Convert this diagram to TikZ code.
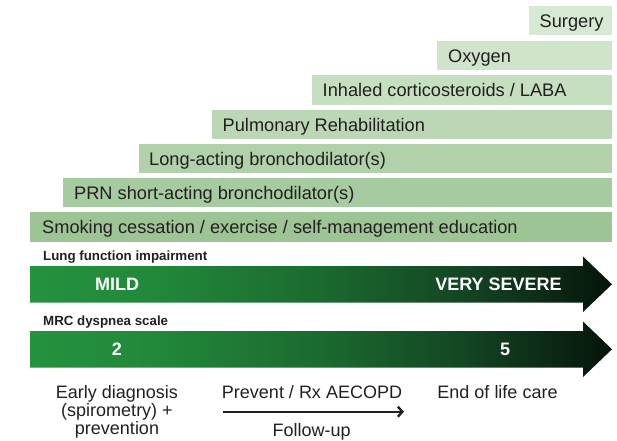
\documentclass[tikz,border=0pt]{standalone}
\usepackage{fontspec}
\setmainfont{Liberation Sans}
\usetikzlibrary{arrows.meta}
\definecolor{txt}{HTML}{231F20}
\definecolor{b1}{HTML}{D6E9D3}
\definecolor{b2}{HTML}{CFE4CB}
\definecolor{b3}{HTML}{C6DFC1}
\definecolor{b4}{HTML}{BBD7B5}
\definecolor{b5}{HTML}{B0D1AA}
\definecolor{b6}{HTML}{A7CBA0}
\definecolor{b7}{HTML}{9CC494}
\definecolor{g0}{HTML}{24923F}
\definecolor{g1}{HTML}{22893B}
\definecolor{g2}{HTML}{1B6A2F}
\definecolor{g3}{HTML}{134523}
\definecolor{g4}{HTML}{06140A}
\pgfdeclarehorizontalshading{grn}{100bp}{color(0bp)=(g0); color(25bp)=(g0); color(35bp)=(g1); color(50bp)=(g2); color(62.5bp)=(g3); color(75bp)=(g4); color(100bp)=(g4)}
\tikzset{
  bar/.style={anchor=north west, inner sep=0pt, minimum height=29.5pt},
  bartext/.style={anchor=base west, inner sep=0pt, text=txt, font=\fontsize{18.2}{18.2}\selectfont},
  lbl/.style={anchor=base west, inner sep=0pt, text=txt, font=\fontsize{13.3}{14}\bfseries\selectfont},
  wtext/.style={inner sep=0pt, text=white, font=\fontsize{18}{18}\bfseries\selectfont},
  btext/.style={anchor=base, inner sep=0pt, text=txt, align=center, font=\fontsize{18}{18.2}\selectfont},
}
\begin{document}
\begin{tikzpicture}[x=1pt,y=-1pt]
\useasboundingbox (0,0) rectangle (617,440);
% stair bars
\node[bar, fill=b1, minimum width=83.5pt]  (surgery) at (528.5,5.5) {};
\node[bar, fill=b2, minimum width=175pt]   (oxygen)  at (437,40.5) {};
\node[bar, fill=b3, minimum width=300.5pt] (ics)     at (311.5,75) {};
\node[bar, fill=b4, minimum width=400.5pt] (pulm)    at (211.5,109.5) {};
\node[bar, fill=b5, minimum width=473pt]   (laba)    at (139,143.5) {};
\node[bar, fill=b6, minimum width=549pt]   (prn)     at (63,177.5) {};
\node[bar, fill=b7, minimum width=582pt]   (smoke)   at (30,212) {};
\node[bartext] (tsurgery) at ([xshift=11pt,yshift=-7pt]surgery.west) {Surgery};
\node[bartext] (toxygen)  at ([xshift=11pt,yshift=-7pt]oxygen.west) {Oxygen};
\node[bartext] (tics)     at ([xshift=11pt,yshift=-7pt]ics.west) {Inhaled corticosteroids / LABA};
\node[bartext] (tpulm)    at ([xshift=11pt,yshift=-7pt]pulm.west) {Pulmonary Rehabilitation};
\node[bartext] (tlaba)    at ([xshift=10pt,yshift=-7pt]laba.west) {Long-acting bronchodilator(s)};
\node[bartext] (tprn)     at ([xshift=11pt,yshift=-7pt]prn.west) {PRN short-acting bronchodilator(s)};
\node[bartext] (tsmoke)   at ([xshift=12pt,yshift=-7pt]smoke.west) {Smoking cessation / exercise / self-management education};
% lung function arrow
\node[lbl] (lfi) at (43,260.5) {Lung function impairment};
\shade[shading=grn] (30,266) -- (583,266) -- (583,256.5) -- (612,284.25) -- (583,312) -- (583,302.5) -- (30,302.5) -- cycle;
\node[wtext] (mild) at (117,284.25) {MILD};
\node[wtext] (vsev) at (498.5,284.25) {VERY SEVERE};
% MRC arrow
\node[lbl] (mrc) at (43,325) {MRC dyspnea scale};
\shade[shading=grn] (30,331) -- (583,331) -- (583,321.5) -- (612,349.25) -- (583,377) -- (583,367.5) -- (30,367.5) -- cycle;
\node[wtext] (two) at (117,349.25) {2};
\node[wtext] (five) at (505,349.25) {5};
% bottom texts
\node[btext] (early) at (117,434.6) {Early diagnosis\\(spirometry) +\\prevention};
\node[btext] (prevent) at (312,398.3) {Prevent / Rx AECOPD};
\node[btext] (follow) at (311.7,436.5) {Follow-up};
\node[btext] (eol) at (497.5,398.3) {End of life care};
\coordinate (fa) at (223,411.7);
\coordinate (fb) at (404,411.7);
\draw[line width=2pt, txt, -{Straight Barb[length=4.5pt,width=10pt,line width=2.4pt]}] (fa) -- (fb);
\end{tikzpicture}
\end{document}
